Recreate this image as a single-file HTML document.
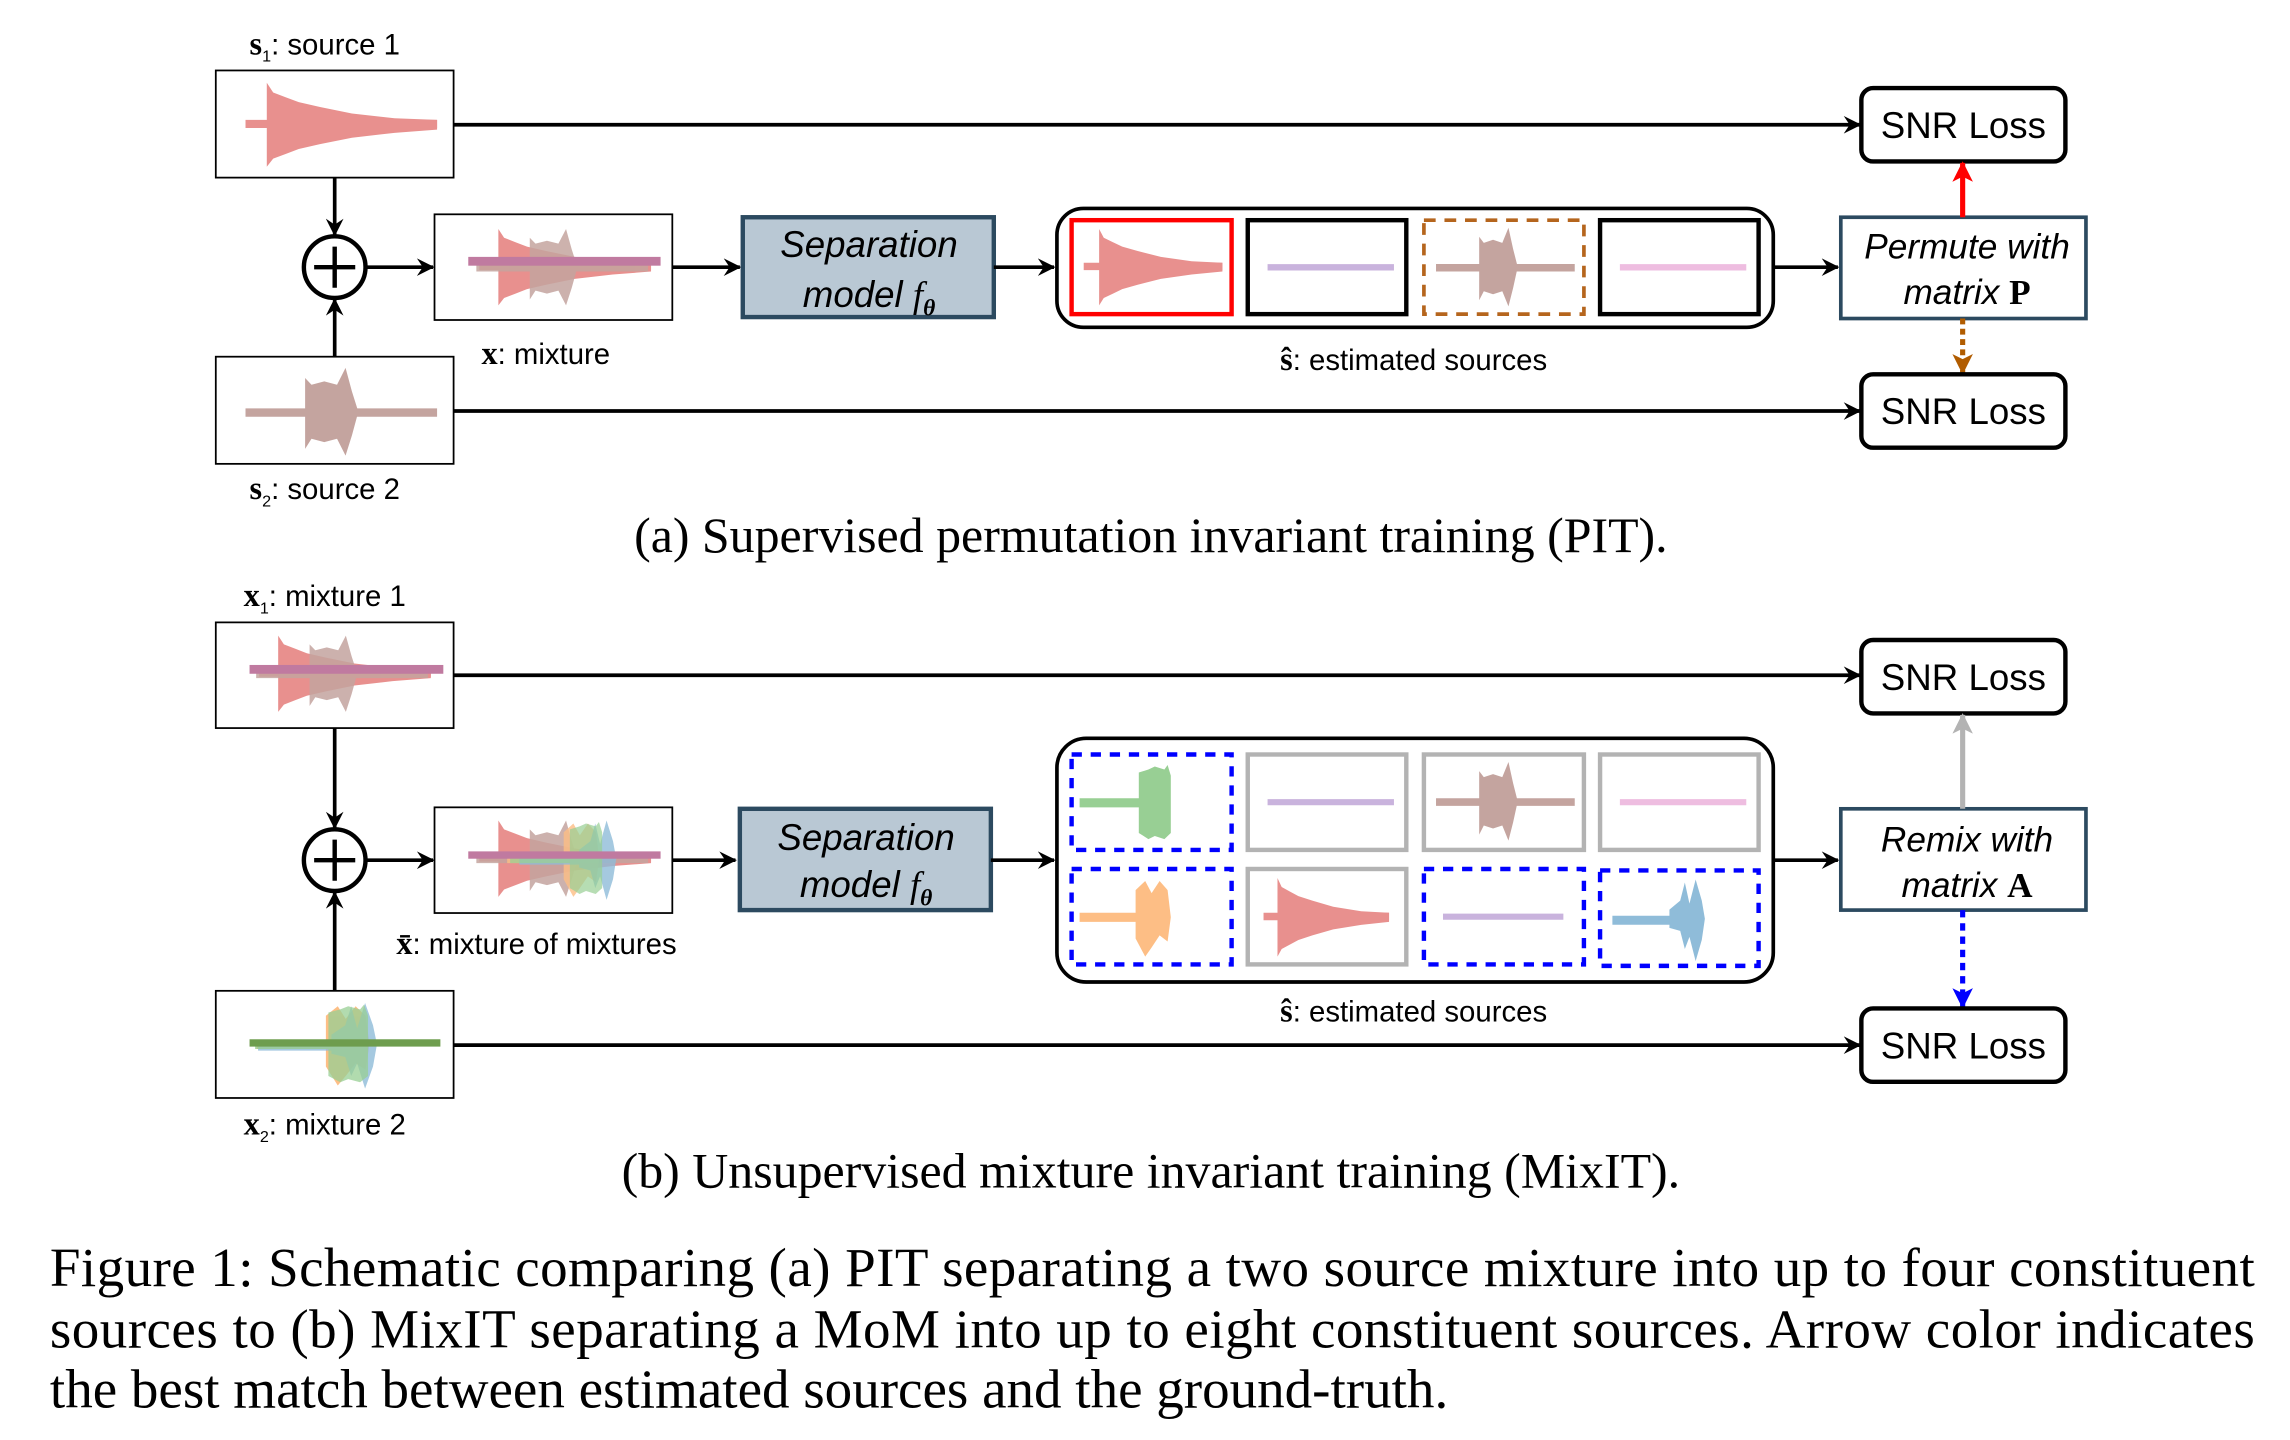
<!DOCTYPE html>
<html><head><meta charset="utf-8">
<style>
html,body{margin:0;padding:0;background:#fff;}
svg{display:block;}
.sans{font-family:"Liberation Sans",sans-serif;}
.serif{font-family:"Liberation Serif",serif;}
</style></head>
<body>
<svg width="2290" height="1440" viewBox="0 0 1560 981" preserveAspectRatio="none" xmlns="http://www.w3.org/2000/svg">
<defs>
<marker id="ab" viewBox="0 0 12 12" refX="11" refY="6" markerWidth="12" markerHeight="12" markerUnits="userSpaceOnUse" orient="auto"><path d="M0,0 L12,6 L0,12 L4,6Z" fill="#000"/></marker>
<marker id="ar" viewBox="0 0 12 12" refX="11" refY="6" markerWidth="14" markerHeight="14" markerUnits="userSpaceOnUse" orient="auto"><path d="M0,0 L12,6 L0,12 L3,6Z" fill="#f00"/></marker>
<marker id="ao" viewBox="0 0 12 12" refX="11" refY="6" markerWidth="14" markerHeight="14" markerUnits="userSpaceOnUse" orient="auto"><path d="M0,0 L12,6 L0,12 L3,6Z" fill="#b15c00"/></marker>
<marker id="ag" viewBox="0 0 12 12" refX="11" refY="6" markerWidth="14" markerHeight="14" markerUnits="userSpaceOnUse" orient="auto"><path d="M0,0 L12,6 L0,12 L3,6Z" fill="#b3b3b3"/></marker>
<marker id="au" viewBox="0 0 12 12" refX="11" refY="6" markerWidth="14" markerHeight="14" markerUnits="userSpaceOnUse" orient="auto"><path d="M0,0 L12,6 L0,12 L3,6Z" fill="#00f"/></marker>
<g id="decay" fill="#e8908e"><path d="M5,27 h90 v5 h-90z"/><path d="M15,4 L18,10 L24,13 L30,16 L40,19 L55,23 L75,26 L95,27 L95,33 L75,35 L55,38 L40,42 L30,45 L24,48 L18,51 L15,56 Z"/></g>
<g id="brown" fill="#c4a49f"><path d="M5,28 h90 v5 h-90z"/><path d="M33,10 L36,14 L42,12 L48,14 L52,4 L55,18 L58,30 L55,44 L52,56 L48,46 L42,48 L36,46 L33,52 Z"/></g>
<g id="green" fill="#98cf94"><path d="M5,27 h40 v6 h-40z"/><path d="M42,10 L48,8 L52,6 L58,8 L60,5 L62,12 L62,50 L58,54 L52,52 L48,54 L42,50 Z"/></g>
<g id="orange" fill="#fdbe85"><path d="M5,27 h40 v6 h-40z"/><path d="M40,12 L46,6 L50,14 L55,6 L60,12 L62,30 L60,46 L55,42 L50,50 L46,56 L40,44 Z"/></g>
<g id="blue" fill="#8fbcd9"><path d="M8,28 h40 v6 h-40z"/><path d="M45,24 L52,18 L55,6 L58,20 L62,4 L66,18 L68,30 L66,44 L62,58 L58,42 L55,50 L52,38 L45,36 Z"/></g>
<path id="purple" d="M10,28 h82 v4 h-82z" fill="#c9b3dd"/>
<path id="pink" d="M10,28 h82 v4 h-82z" fill="#eebde0"/>
</defs>

<g class="sans" font-size="20" fill="#000">
<!-- (a) -->
<text x="170" y="37"><tspan class="serif" font-weight="bold" font-size="22">s</tspan><tspan font-size="11" dy="5">1</tspan><tspan dy="-5">: source 1</tspan></text>
<rect x="147" y="48" width="162" height="73" fill="#fff" stroke="#000" stroke-width="1.2"/>
<use href="#decay" transform="translate(160,52) scale(1.45,1.1)"/>
<line x1="309" y1="85" x2="1267" y2="85" stroke="#000" stroke-width="2.5" marker-end="url(#ab)"/>
<rect x="1268" y="60" width="139" height="50" rx="8" fill="#fff" stroke="#000" stroke-width="3"/>
<text x="1337.5" y="94" text-anchor="middle" font-size="25">SNR Loss</text>
<line x1="228" y1="121" x2="228" y2="160" stroke="#000" stroke-width="2.5" marker-end="url(#ab)"/>
<circle cx="228" cy="182" r="21" fill="#fff" stroke="#000" stroke-width="3"/>
<path d="M214,182 h28 M228,168 v28" stroke="#000" stroke-width="3"/>
<rect x="147" y="243" width="162" height="73" fill="#fff" stroke="#000" stroke-width="1.2"/>
<use href="#brown" transform="translate(160,246) scale(1.45,1.15)"/>
<line x1="228" y1="243" x2="228" y2="204" stroke="#000" stroke-width="2.5" marker-end="url(#ab)"/>
<text x="170" y="340"><tspan class="serif" font-weight="bold" font-size="22">s</tspan><tspan font-size="11" dy="5">2</tspan><tspan dy="-5">: source 2</tspan></text>
<line x1="249" y1="182" x2="295" y2="182" stroke="#000" stroke-width="2.5" marker-end="url(#ab)"/>
<rect x="296" y="146" width="162" height="72" fill="#fff" stroke="#000" stroke-width="1.2"/>
<use href="#decay" transform="translate(320,152) scale(1.3,1)"/>
<use href="#brown" transform="translate(318,152) scale(1.3,1)" opacity="0.85"/>
<rect x="319" y="175" width="131" height="6" fill="#c07aa0"/>
<text x="328" y="248"><tspan class="serif" font-weight="bold" font-size="22">x</tspan>: mixture</text>
<line x1="458" y1="182" x2="504" y2="182" stroke="#000" stroke-width="2.5" marker-end="url(#ab)"/>
<rect x="506" y="148" width="171" height="68" fill="#b9c8d4" stroke="#2c4a60" stroke-width="3"/>
<text x="592" y="175" text-anchor="middle" font-size="25" font-style="italic">Separation</text>
<text x="592" y="209" text-anchor="middle" font-size="25" font-style="italic">model <tspan class="serif">f</tspan><tspan class="serif" font-weight="bold" font-size="16" dy="6">θ</tspan></text>
<line x1="677" y1="182" x2="718" y2="182" stroke="#000" stroke-width="2.5" marker-end="url(#ab)"/>
<rect x="720" y="142" width="488" height="81" rx="18" fill="#fff" stroke="#000" stroke-width="2.5"/>
<rect x="730" y="150" width="109" height="64" fill="#fff" stroke="#f00" stroke-width="3"/>
<use href="#decay" transform="translate(733,152) scale(1.05,1.0)"/>
<rect x="850" y="150" width="108" height="64" fill="#fff" stroke="#000" stroke-width="3"/>
<use href="#purple" transform="translate(853,150) scale(1.05,1.07)"/>
<rect x="970" y="150" width="109" height="64" fill="#fff" stroke="#b5651d" stroke-width="2.5" stroke-dasharray="8,6"/>
<use href="#brown" transform="translate(973,151) scale(1.05,1.03)"/>
<rect x="1090" y="150" width="108" height="64" fill="#fff" stroke="#000" stroke-width="3"/>
<use href="#pink" transform="translate(1093,150) scale(1.05,1.07)"/>
<text x="963" y="252" text-anchor="middle"><tspan class="serif" font-weight="bold" font-size="22">ŝ</tspan>: estimated sources</text>
<line x1="1208" y1="182" x2="1252" y2="182" stroke="#000" stroke-width="2.5" marker-end="url(#ab)"/>
<rect x="1254" y="148" width="167" height="69" fill="#fff" stroke="#2c4a60" stroke-width="2.5"/>
<text x="1340" y="176" text-anchor="middle" font-size="24" font-style="italic">Permute with</text>
<text x="1340" y="207" text-anchor="middle" font-size="24"><tspan font-style="italic">matrix </tspan><tspan class="serif" font-weight="bold">P</tspan></text>
<line x1="1337" y1="148" x2="1337" y2="111" stroke="#f00" stroke-width="3.5" marker-end="url(#ar)"/>
<line x1="1337" y1="217" x2="1337" y2="254" stroke="#b15c00" stroke-width="3.5" stroke-dasharray="4,3" marker-end="url(#ao)"/>
<rect x="1268" y="255" width="139" height="50" rx="8" fill="#fff" stroke="#000" stroke-width="3"/>
<text x="1337.5" y="289" text-anchor="middle" font-size="25">SNR Loss</text>
<line x1="309" y1="280" x2="1267" y2="280" stroke="#000" stroke-width="2.5" marker-end="url(#ab)"/>
<text class="serif" x="784" y="376" text-anchor="middle" font-size="34">(a) Supervised permutation invariant training (PIT).</text>

<!-- (b) -->
<text x="166" y="413"><tspan class="serif" font-weight="bold" font-size="22">x</tspan><tspan font-size="11" dy="5">1</tspan><tspan dy="-5">: mixture 1</tspan></text>
<rect x="147" y="424" width="162" height="72" fill="#fff" stroke="#000" stroke-width="1.2"/>
<use href="#decay" transform="translate(170,429) scale(1.3,1)"/>
<use href="#brown" transform="translate(168,429) scale(1.3,1)" opacity="0.85"/>
<rect x="170" y="453" width="132" height="6" fill="#c07aa0"/>
<line x1="309" y1="460" x2="1267" y2="460" stroke="#000" stroke-width="2.5" marker-end="url(#ab)"/>
<rect x="1268" y="436" width="139" height="50" rx="8" fill="#fff" stroke="#000" stroke-width="3"/>
<text x="1337.5" y="470" text-anchor="middle" font-size="25">SNR Loss</text>
<line x1="228" y1="496" x2="228" y2="564" stroke="#000" stroke-width="2.5" marker-end="url(#ab)"/>
<circle cx="228" cy="586" r="21" fill="#fff" stroke="#000" stroke-width="3"/>
<path d="M214,586 h28 M228,572 v28" stroke="#000" stroke-width="3"/>
<line x1="228" y1="675" x2="228" y2="608" stroke="#000" stroke-width="2.5" marker-end="url(#ab)"/>
<rect x="147" y="675" width="162" height="73" fill="#fff" stroke="#000" stroke-width="1.2"/>
<use href="#orange" transform="translate(168,679) scale(1.35,1.08)"/>
<use href="#blue" transform="translate(165,679) scale(1.35,1.08)" opacity="0.8"/>
<use href="#green" transform="translate(167,679) scale(1.35,1.08)" opacity="0.75"/>
<rect x="170" y="708" width="130" height="5" fill="#6e9d4e"/>
<text x="166" y="773"><tspan class="serif" font-weight="bold" font-size="22">x</tspan><tspan font-size="11" dy="5">2</tspan><tspan dy="-5">: mixture 2</tspan></text>
<line x1="309" y1="712" x2="1267" y2="712" stroke="#000" stroke-width="2.5" marker-end="url(#ab)"/>
<line x1="249" y1="586" x2="295" y2="586" stroke="#000" stroke-width="2.5" marker-end="url(#ab)"/>
<rect x="296" y="550" width="162" height="72" fill="#fff" stroke="#000" stroke-width="1.2"/>
<use href="#decay" transform="translate(320,555) scale(1.3,1)"/>
<use href="#brown" transform="translate(318,555) scale(1.3,1)" opacity="0.85"/>
<use href="#orange" transform="translate(340,555) scale(1.1,1)" opacity="0.8"/>
<use href="#blue" transform="translate(345,555) scale(1.1,1)" opacity="0.8"/>
<use href="#green" transform="translate(342,555) scale(1.1,1)" opacity="0.7"/>
<rect x="319" y="580" width="131" height="5" fill="#c07aa0"/>
<text x="270" y="650"><tspan class="serif" font-weight="bold" font-size="22">x̄</tspan>: mixture of mixtures</text>
<line x1="458" y1="586" x2="501" y2="586" stroke="#000" stroke-width="2.5" marker-end="url(#ab)"/>
<rect x="504" y="551" width="171" height="69" fill="#b9c8d4" stroke="#2c4a60" stroke-width="3"/>
<text x="590" y="579" text-anchor="middle" font-size="25" font-style="italic">Separation</text>
<text x="590" y="611" text-anchor="middle" font-size="25" font-style="italic">model <tspan class="serif">f</tspan><tspan class="serif" font-weight="bold" font-size="16" dy="6">θ</tspan></text>
<line x1="675" y1="586" x2="718" y2="586" stroke="#000" stroke-width="2.5" marker-end="url(#ab)"/>
<rect x="720" y="503" width="488" height="166" rx="20" fill="#fff" stroke="#000" stroke-width="2.5"/>
<rect x="730" y="514" width="109" height="65" fill="#fff" stroke="#00f" stroke-width="3" stroke-dasharray="7,6"/>
<use href="#green" transform="translate(730,516) scale(1.09,1.03)"/>
<rect x="850" y="514" width="108" height="65" fill="#fff" stroke="#b3b3b3" stroke-width="3"/>
<use href="#purple" transform="translate(853,515) scale(1.05,1.05)"/>
<rect x="970" y="514" width="109" height="65" fill="#fff" stroke="#b3b3b3" stroke-width="3"/>
<use href="#brown" transform="translate(973,515) scale(1.05,1.03)"/>
<rect x="1090" y="514" width="108" height="65" fill="#fff" stroke="#b3b3b3" stroke-width="3"/>
<use href="#pink" transform="translate(1093,515) scale(1.05,1.05)"/>
<rect x="730" y="592" width="109" height="65" fill="#fff" stroke="#00f" stroke-width="3" stroke-dasharray="7,6"/>
<use href="#orange" transform="translate(730,594) scale(1.09,1.03)"/>
<rect x="850" y="592" width="108" height="65" fill="#fff" stroke="#b3b3b3" stroke-width="3"/>
<use href="#decay" transform="translate(856,594) scale(0.95,1.03)"/>
<rect x="970" y="592" width="109" height="65" fill="#fff" stroke="#00f" stroke-width="3" stroke-dasharray="7,6"/>
<use href="#purple" transform="translate(973,593) scale(1.0,1.05)"/>
<rect x="1090" y="593" width="108" height="65" fill="#fff" stroke="#00f" stroke-width="3" stroke-dasharray="7,6"/>
<use href="#blue" transform="translate(1090,595) scale(1.05,1.03)"/>
<text x="963" y="696" text-anchor="middle"><tspan class="serif" font-weight="bold" font-size="22">ŝ</tspan>: estimated sources</text>
<line x1="1208" y1="586" x2="1252" y2="586" stroke="#000" stroke-width="2.5" marker-end="url(#ab)"/>
<rect x="1254" y="551" width="167" height="69" fill="#fff" stroke="#2c4a60" stroke-width="2.5"/>
<text x="1340" y="580" text-anchor="middle" font-size="24" font-style="italic">Remix with</text>
<text x="1340" y="611" text-anchor="middle" font-size="24"><tspan font-style="italic">matrix </tspan><tspan class="serif" font-weight="bold">A</tspan></text>
<line x1="1337" y1="551" x2="1337" y2="487" stroke="#b3b3b3" stroke-width="3.5" marker-end="url(#ag)"/>
<line x1="1337" y1="620" x2="1337" y2="686" stroke="#00f" stroke-width="3.5" stroke-dasharray="5,4" marker-end="url(#au)"/>
<rect x="1268" y="687" width="139" height="50" rx="8" fill="#fff" stroke="#000" stroke-width="3"/>
<text x="1337.5" y="721" text-anchor="middle" font-size="25">SNR Loss</text>
<text class="serif" x="784" y="809" text-anchor="middle" font-size="34">(b) Unsupervised mixture invariant training (MixIT).</text>

<g class="serif" font-size="37.5">
<text x="34" y="876" textLength="1502" lengthAdjust="spacing">Figure 1: Schematic comparing (a) PIT separating a two source mixture into up to four constituent</text>
<text x="34" y="918" textLength="1502" lengthAdjust="spacing">sources to (b) MixIT separating a MoM into up to eight constituent sources. Arrow color indicates</text>
<text x="34" y="959">the best match between estimated sources and the ground-truth.</text>
</g>
</g>
</svg>
</body></html>
